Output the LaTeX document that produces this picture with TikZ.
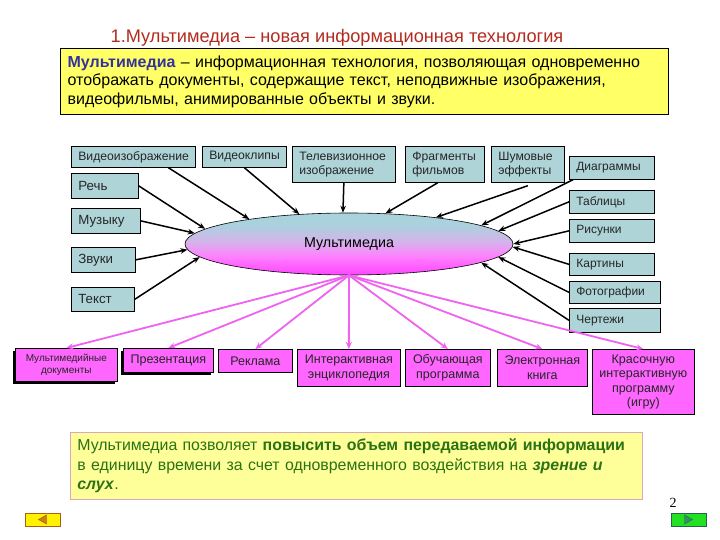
\documentclass[tikz,border=0pt]{standalone}
\usepackage{fontspec}
\setmainfont{Liberation Sans}
\newfontfamily\MediaSerifFamily{Liberation Serif}
\usepackage{xcolor}
\usepackage{tikz}
\usetikzlibrary{shapes.geometric,arrows.meta,shadows,positioning}
\definecolor{titlered}{HTML}{B32B1E}
\definecolor{termblue}{HTML}{333399}
\definecolor{defyellow}{HTML}{FFFF66}
\definecolor{noteyellow}{HTML}{FFFF99}
\definecolor{noteborder}{HTML}{D9A7BE}
\definecolor{notegreen}{HTML}{2B7214}
\definecolor{sourceteal}{HTML}{AED4D8}
\definecolor{targetpink}{HTML}{FF66FF}
\definecolor{spreadpink}{HTML}{F062F0}
\definecolor{hubblue}{HTML}{A9D2DD}
\definecolor{hublilac}{HTML}{D4B4EA}
\definecolor{hubrose}{HTML}{FF80FF}
\definecolor{hubpink}{HTML}{FF4CFF}
\definecolor{prevyellow}{HTML}{FFF200}
\definecolor{prevorange}{HTML}{D2781E}
\definecolor{nextgreen}{HTML}{22E022}
\definecolor{nextteal}{HTML}{3A8C6E}
\pgfdeclareverticalshading{hubshade}{100bp}{color(0bp)=(hubpink); color(27bp)=(hubpink);
    color(40bp)=(hubrose); color(52bp)=(hublilac); color(66bp)=(hubblue); color(100bp)=(hubblue)}
\newcommand{\MediaTitleFont}{\fontsize{18.2pt}{21pt}\selectfont}
\newcommand{\MediaTextFont}{\fontsize{16pt}{18.5pt}\selectfont}
\newcommand{\MediaNoteFont}{\fontsize{15.9pt}{19.5pt}\selectfont}
\newcommand{\MediaTopFont}{\fontsize{12.2pt}{14pt}\selectfont}
\newcommand{\MediaSideFont}{\fontsize{13.3pt}{15pt}\selectfont}
\newcommand{\MediaRightFont}{\fontsize{12pt}{14pt}\selectfont}
\newcommand{\MediaTargetFont}{\fontsize{12.5pt}{14.5pt}\selectfont}
\newcommand{\MediaSmallFont}{\fontsize{10pt}{12.5pt}\selectfont}
\newcommand{\MediaBox}[7]{%
    \pgfmathsetmacro{\MediaBoxW}{#5-#3}%
    \pgfmathsetmacro{\MediaBoxH}{#6-#4}%
    \pgfmathsetmacro{\MediaBoxT}{#5-#3-14}%
    \node[#2, anchor=north west, minimum width=\MediaBoxW pt, minimum height=\MediaBoxH pt,
        text width=\MediaBoxT pt] (#1) at (#3,#4) {#7};%
}
\tikzset{
  source top/.style={
    draw=black, fill=sourceteal, line width=0.7pt, inner xsep=7pt, inner ysep=0pt,
    align=left, font=\MediaTopFont, text=black!85
  },
  source left/.style={source top, font=\MediaSideFont},
  source right/.style={source top, font=\MediaRightFont},
  target box/.style={
    draw=black, fill=targetpink, line width=0.7pt, inner xsep=7pt, inner ysep=0pt,
    align=center, font=\MediaTargetFont, text=black!85
  },
  target shadow box/.style={
    target box,
    drop shadow={shadow xshift=-2.5pt, shadow yshift=-2.5pt, fill=black, opacity=1}
  },
  definition box/.style={
    draw=black, fill=defyellow, line width=1.2pt, inner xsep=7pt, inner ysep=0pt,
    align=left, font=\MediaTextFont
  },
  note box/.style={
    draw=noteborder, fill=noteyellow, line width=0.8pt, inner xsep=7pt, inner ysep=0pt,
    align=left, font=\MediaNoteFont, text=notegreen
  },
  hub/.style={
    ellipse, draw=black, line width=0.6pt, inner sep=0pt,
    minimum width=328pt, minimum height=62pt,
    shading=hubshade, font=\fontsize{14.3pt}{16pt}\selectfont
  },
  feed arrow/.style={
    -{Stealth[length=7pt, width=5.5pt]}, line width=1.5pt, draw=black
  },
  spread arrow/.style={
    -{Stealth[length=7pt, width=6pt]}, line width=1.8pt, draw=spreadpink, line cap=round
  },
  nav button/.style={
    draw, line width=0.8pt, inner sep=0pt, minimum width=35pt, minimum height=13pt
  }
}

\begin{document}
\begin{tikzpicture}[x=1pt, y=-1pt]
    \useasboundingbox (0,0) rectangle (720,540);
    \fill[white] (0,0) rectangle (720,540);

    \node[font=\MediaTitleFont, text=titlered] (title) at (337,38)
        {1.Мультимедиа – новая информационная технология};
    \MediaBox{definition}{definition box}{60}{48}{668}{114}{%
        \textbf{\color{termblue}Мультимедиа} – информационная технология, позволяющая одновременно\\
        отображать документы, содержащие текст, неподвижные изображения,\\
        видеофильмы, анимированные объекты и звуки.}

    \MediaBox{vid}{source top}{71}{146}{195}{167}{Видеоизображение}
    \MediaBox{clip}{source top}{202}{146}{286}{167}{Видеоклипы}
    \MediaBox{tv}{source top}{292}{146}{395}{182}{Телевизионное\\изображение}
    \MediaBox{frag}{source top}{405}{146}{484}{182}{Фрагменты\\фильмов}
    \MediaBox{noise}{source top}{491}{146}{564}{182}{Шумовые\\эффекты}
    \MediaBox{speech}{source left}{71}{173}{138}{198}{Речь}
    \MediaBox{music}{source left}{71}{208}{140}{233}{Музыку}
    \MediaBox{sounds}{source left}{71}{247}{135}{272}{Звуки}
    \MediaBox{txt}{source left}{71}{287}{134}{311}{Текст}
    \MediaBox{diag}{source right}{569}{156}{654}{179}{Диаграммы}
    \MediaBox{table}{source right}{569}{190}{654}{213}{Таблицы}
    \MediaBox{pics}{source right}{569}{219}{654}{242}{Рисунки}
    \MediaBox{paint}{source right}{569}{253}{654}{275}{Картины}
    \MediaBox{photo}{source right}{569}{281}{660}{303}{Фотографии}
    \MediaBox{draft}{source right}{569}{308}{660}{332}{Чертежи}

    \node[hub] (mm) at (349,244) {Мультимедиа};

    \draw[feed arrow] ([xshift=35pt]vid.south) -- (mm.166);
    \draw[feed arrow] (clip.south) -- (mm.149);
    \draw[feed arrow] (tv.south) -- (mm.101);
    \draw[feed arrow] ([xshift=-7pt]frag.south) -- (mm.40);
    \draw[feed arrow] ([yshift=-3pt]noise.south) -- (mm.17);
    \draw[feed arrow] ([xshift=4pt]diag.south west) -- (mm.8.4);
    \draw[feed arrow] (table.west) -- (mm.5.2);
    \draw[feed arrow] (pics.west) -- (mm.0.7);
    \draw[feed arrow] (paint.west) -- (mm.-1.4);
    \draw[feed arrow] (photo.west) -- (mm.-5.5);
    \draw[feed arrow] (draft.west) -- (mm.-8.1);
    \draw[feed arrow] (speech.east) -- (mm.174.4);
    \draw[feed arrow] (music.east) -- (mm.176.8);
    \draw[feed arrow] (sounds.east) -- (mm.182.8);
    \draw[feed arrow] (txt.east) -- (mm.185.4);

    \MediaBox{doc}{target shadow box, font=\MediaSmallFont}{15}{348}{117}{381}{Мультимедийные\\документы}
    \MediaBox{pres}{target shadow box}{123}{348}{213}{372}{Презентация}
    \MediaBox{ad}{target box}{218}{349}{292}{372}{Реклама}
    \MediaBox{enc}{target box}{297}{349}{400}{386}{Интерактивная\\энциклопедия}
    \MediaBox{edu}{target box}{405}{349}{490}{386}{Обучающая\\программа}
    \MediaBox{book}{target box}{497}{349}{587}{386}{Электронная\\книга}
    \MediaBox{game}{target box}{592}{349}{694}{414}{Красочную\\интерактивную\\программу\\(игру)}

    \foreach \target in {doc,pres,ad,enc,edu,book,game}
        \draw[spread arrow] (mm.south) -- (\target.north);

    \MediaBox{note}{note box}{70}{432}{642}{499}{%
        Мультимедиа позволяет \textbf{повысить объем передаваемой информации}\\
        в единицу времени за счет одновременного воздействия на \textbf{\textit{зрение и}}\\
        \textbf{\textit{слух}}.}

    \node[font=\MediaSerifFamily\fontsize{14pt}{16pt}\selectfont] (page) at (673,503) {2};
    \node[nav button, draw=prevorange!80!black, fill=prevyellow] (prev) at (42.5,519.5) {};
    \node[nav button, draw=nextteal!70!black, fill=nextgreen] (next) at (688.5,519.5) {};
    \fill[prevorange, draw=prevorange!70!black] ([xshift=-4pt]prev.center) -- ++(8,-4.5) -- ++(0,9) -- cycle;
    \fill[nextteal, draw=nextteal!70!black] ([xshift=4pt]next.center) -- ++(-8,-4.5) -- ++(0,9) -- cycle;
\end{tikzpicture}
\end{document}
